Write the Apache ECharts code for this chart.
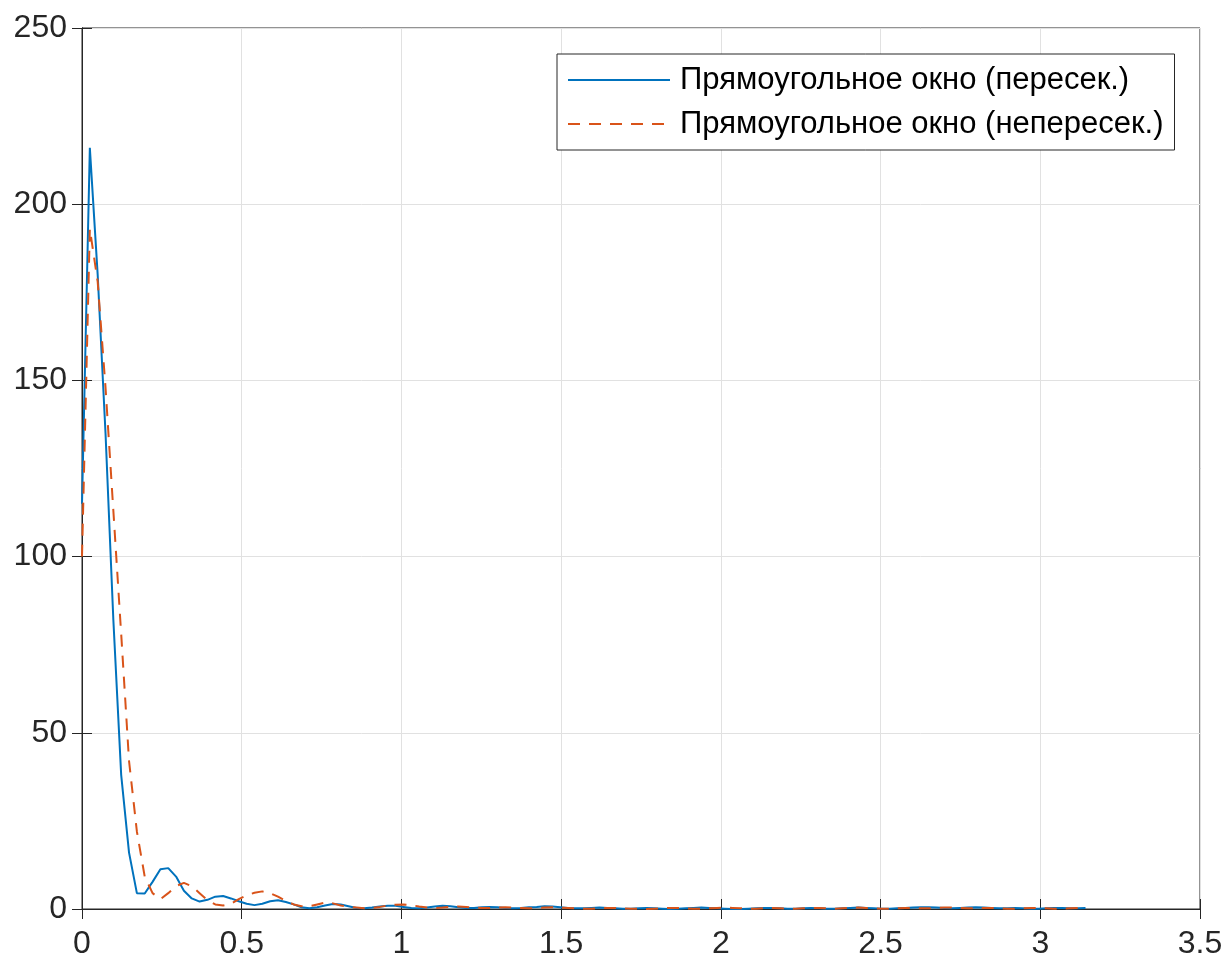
<!DOCTYPE html>
<html>
<head>
<meta charset="utf-8">
<script src="https://cdn.jsdelivr.net/npm/echarts@6/dist/echarts.min.js"></script>
<style>
  html, body { margin: 0; padding: 0; background: #fff; }
  #chart { width: 1226px; height: 962px; }
</style>
</head>
<body>
<div id="chart"></div>
<script>
// frequency grid: 129 bins from 0 to pi
var binCount = 129;
var binStep = Math.PI / 128;

// overlapping segments, rectangular window
var overlapVals = [
  115, 216, 180, 135, 82, 38, 16, 4.5, 4.4, 7.7, 11.3, 11.6, 9.2, 5.2, 3.0, 2.1,
  2.6, 3.5, 3.7, 3.0, 2.2, 1.5, 1.1, 1.5, 2.2, 2.5, 2.0, 1.3, 0.5, 0.2, 0.5, 1.0,
  1.4, 1.3, 0.8, 0.3, 0.2, 0.4, 0.7, 0.9, 0.9,
  0.6, 0.3, 0.2, 0.4, 0.7, 0.9, 0.8, 0.5,
  0.3, 0.3, 0.5, 0.6, 0.5, 0.3, 0.2, 0.3,
  0.5, 0.6, 0.8, 0.7, 0.5, 0.3, 0.2, 0.2,
  0.3, 0.4, 0.3, 0.2, 0.1, 0.1, 0.2, 0.3,
  0.2, 0.1, 0.0, 0.1, 0.2, 0.3, 0.4, 0.3,
  0.2, 0.1, 0.0, 0.0, 0.1, 0.2, 0.3, 0.3,
  0.2, 0.1, 0.1, 0.2, 0.3, 0.2, 0.1, 0.1,
  0.2, 0.3, 0.4, 0.3, 0.2, 0.1, 0.1, 0.2,
  0.3, 0.4, 0.5, 0.5, 0.4, 0.3, 0.2, 0.3,
  0.4, 0.5, 0.4, 0.3, 0.2, 0.2, 0.3, 0.2,
  0.1, 0.1, 0.2, 0.3, 0.3, 0.2, 0.2, 0.3
];

// non-overlapping segments, rectangular window
var nonOverlapVals = [
  100, 193, 178, 148, 113, 78, 42, 22, 9.2, 4.5, 2.8, 4.5, 6.5, 7.4, 6.5,
  4.5, 2.5, 1.3, 1.0, 1.5, 2.8, 3.9, 4.6, 5.0, 4.5, 3.5, 2.3, 1.3, 0.8, 0.8,
  1.3, 1.8, 1.6, 1.0, 0.6, 0.4, 0.2, 0.3, 0.6, 1.0, 1.2, 1.3, 1.1, 0.7, 0.4,
  0.3, 0.4, 0.6, 0.7, 0.6, 0.4, 0.3, 0.3,
  0.4, 0.5, 0.4, 0.3, 0.2, 0.3, 0.4, 0.5,
  0.4, 0.3, 0.2, 0.1, 0.1, 0.2, 0.3, 0.3,
  0.2, 0.1, 0.1, 0.0, 0.1, 0.2, 0.3, 0.3,
  0.2, 0.1, 0.1, 0.2, 0.3, 0.4, 0.3, 0.2,
  0.1, 0.1, 0.2, 0.3, 0.2, 0.1, 0.1, 0.2,
  0.3, 0.3, 0.2, 0.1, 0.2, 0.3, 0.4, 0.3,
  0.2, 0.1, 0.1, 0.2, 0.3, 0.3, 0.2, 0.2,
  0.3, 0.4, 0.4, 0.3, 0.2, 0.2, 0.3, 0.3,
  0.2, 0.1, 0.1, 0.2, 0.3, 0.3, 0.2, 0.1,
  0.1, 0.2, 0.3, 0.2
];

var seriesNames = ['Прямоугольное окно (пересек.)', 'Прямоугольное окно (непересек.)'];

function toPairs(vals) {
  var out = [];
  for (var k = 0; k < binCount; k++) {
    out.push([k * binStep, vals[k]]);
  }
  return out;
}

var font = "'Liberation Sans', Arial, sans-serif";
var axisColor = '#262626';

var tickLabel = { fontSize: 32, color: axisColor, fontFamily: font };

var myChart = echarts.init(document.getElementById('chart'));
var option = {
  animation: false,
  backgroundColor: '#fff',
  grid: {
    left: 82, right: 26, top: 28, bottom: 53,
    show: true, borderColor: axisColor, borderWidth: 1, backgroundColor: '#fff'
  },
  legend: {
    orient: 'vertical',
    left: 557, top: 54,
    selectedMode: false,
    backgroundColor: '#fff',
    borderColor: axisColor,
    borderWidth: 1,
    borderRadius: 0,
    padding: [10, 11, 10, 10],
    itemWidth: 102,
    itemHeight: 30,
    itemGap: 12,
    itemStyle: { opacity: 0 },
    textStyle: { fontSize: 31, color: '#000', fontFamily: font, lineHeight: 30, padding: [2, 0, 0, 5] },
    data: seriesNames
  },
  xAxis: [{
    type: 'value', min: 0, max: 3.5, interval: 0.5,
    axisLine: { show: true, onZero: false, lineStyle: { color: axisColor, width: 1 } },
    axisTick: { show: true, inside: true, length: 10, lineStyle: { color: axisColor } },
    axisLabel: Object.assign({ margin: 19 }, tickLabel),
    splitLine: { show: true, lineStyle: { color: '#e1e1e1', width: 1 } }
  }, {
    type: 'value', min: 0, max: 3.5, interval: 0.5, position: 'top',
    axisLine: { show: true, lineStyle: { color: axisColor, width: 1 } },
    axisTick: { show: true, inside: true, length: 10, lineStyle: { color: axisColor } },
    axisLabel: { show: false },
    splitLine: { show: false }
  }],
  yAxis: [{
    type: 'value', min: 0, max: 250, interval: 50,
    axisLine: { show: true, onZero: false, lineStyle: { color: axisColor, width: 1 } },
    axisTick: { show: true, inside: true, length: 10, lineStyle: { color: axisColor } },
    axisLabel: Object.assign({ margin: 15 }, tickLabel),
    splitLine: { show: true, lineStyle: { color: '#e1e1e1', width: 1 } }
  }, {
    type: 'value', min: 0, max: 250, interval: 50, position: 'right',
    axisLine: { show: true, lineStyle: { color: axisColor, width: 1 } },
    axisTick: { show: true, inside: true, length: 10, lineStyle: { color: axisColor } },
    axisLabel: { show: false },
    splitLine: { show: false }
  }],
  series: [{
    name: seriesNames[0],
    type: 'line',
    xAxisIndex: 0, yAxisIndex: 0,
    showSymbol: false, symbol: 'none',
    lineStyle: { color: '#0072BD', width: 2 },
    itemStyle: { color: '#0072BD' },
    data: toPairs(overlapVals)
  }, {
    name: seriesNames[1],
    type: 'line',
    xAxisIndex: 0, yAxisIndex: 0,
    showSymbol: false, symbol: 'none',
    lineStyle: { color: '#D95319', width: 2, type: [12, 9] },
    itemStyle: { color: '#D95319' },
    data: toPairs(nonOverlapVals)
  }]
};
myChart.setOption(option);
</script>
</body>
</html>
